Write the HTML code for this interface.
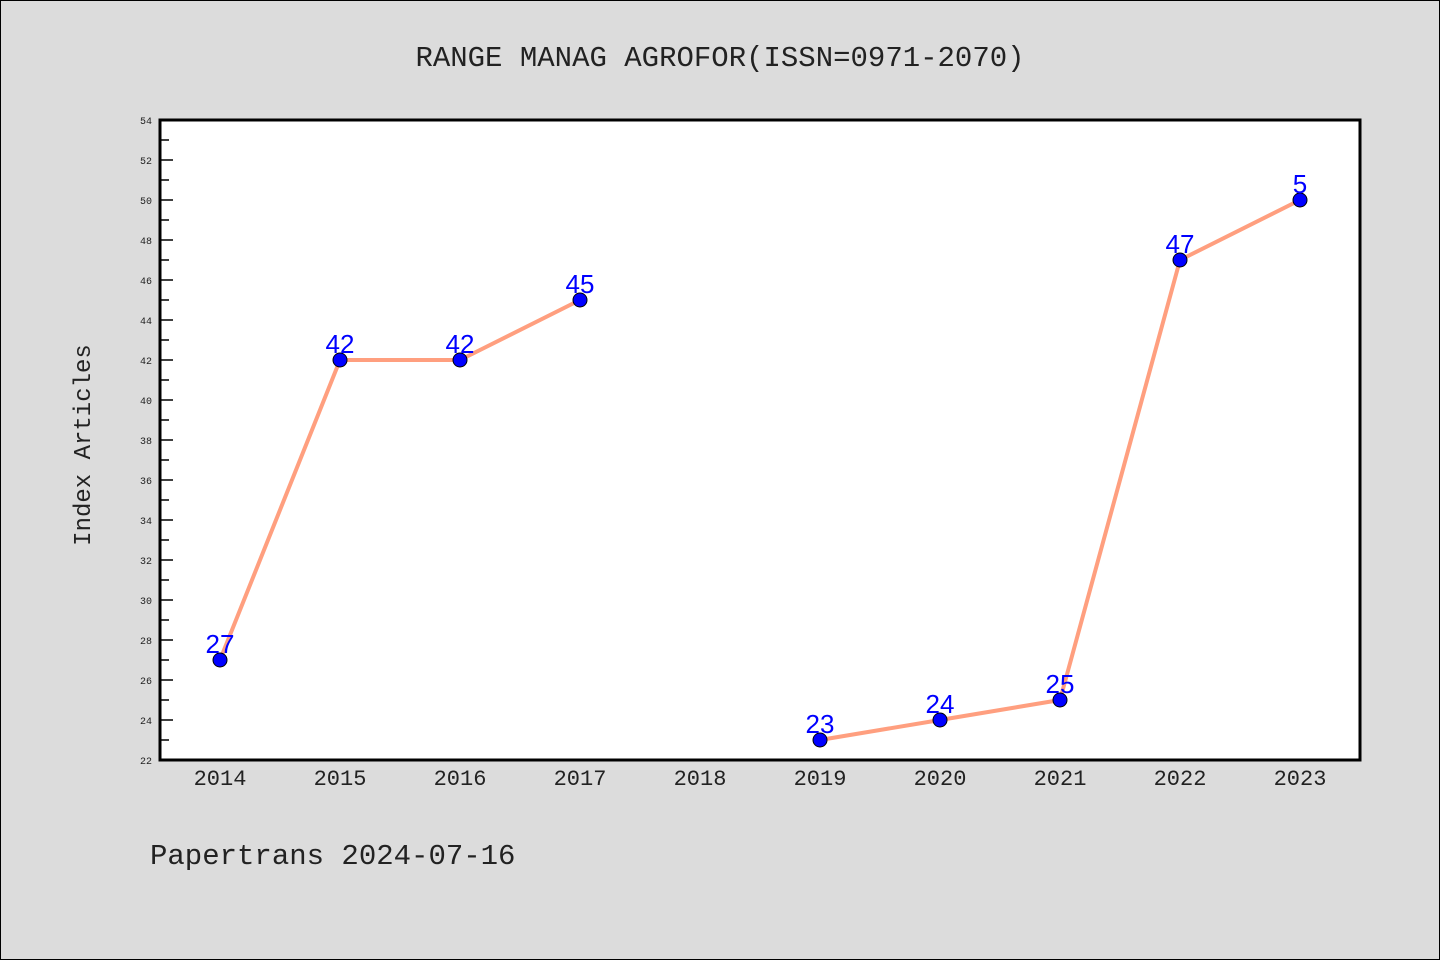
<!DOCTYPE html>
<html><head><meta charset="utf-8"><style>
body{margin:0;background:#dcdcdc;}
svg{display:block;font-family:"Liberation Mono","DejaVu Sans Mono",monospace;}
</style></head><body>
<svg width="1440" height="960">
<rect x="0.5" y="0.5" width="1439" height="959" fill="#dcdcdc" stroke="#000"/>
<text x="720" y="66" text-anchor="middle" font-size="29" fill="#222">RANGE MANAG AGROFOR(ISSN=0971-2070)</text>
<rect x="160" y="120" width="1200" height="640" fill="#fff"/>
<g id="ticks"></g>
<g id="series"></g>
<rect x="160" y="120" width="1200" height="640" fill="none" stroke="#000" stroke-width="3"/>
<text x="90" y="445" text-anchor="middle" font-size="24" fill="#222" transform="rotate(-90 90 445)">Index Articles</text>
<text x="150" y="864" font-size="29" fill="#222">Papertrans 2024-07-16</text>
</svg>
<script>
const years=[2014,2015,2016,2017,2018,2019,2020,2021,2022,2023];
const values=[27,42,42,45,null,23,24,25,47,50];
const labels=["27","42","42","45","","23","24","25","47","5"];
const yTicks=[22,24,26,28,30,32,34,36,38,40,42,44,46,48,50,52,54];
const NS="http://www.w3.org/2000/svg";
const x0=160,yTop=120,yBot=760,yMin=22,yMax=54;
const xs=i=>220+i*120;
const ys=v=>yBot-(v-yMin)/(yMax-yMin)*(yBot-yTop);
function mk(t,a,p){const e=document.createElementNS(NS,t);for(const k in a)e.setAttribute(k,a[k]);p.appendChild(e);return e;}
const tg=document.getElementById('ticks'),sg=document.getElementById('series');
yTicks.forEach(v=>{
 const y=ys(v);
 const l=mk('line',{x1:x0,x2:x0+13,y1:y,y2:y,stroke:'#000','stroke-width':1.5},tg);
 
 
 const t=mk('text',{x:x0-8,y:y+4,'text-anchor':'end','font-size':10,fill:'#222'},tg);
 t.textContent=v;
 
 
 if(v<yMax){const ym=ys(v+1);
 const m=mk('line',{x1:x0,x2:x0+9,y1:ym,y2:ym,stroke:'#000','stroke-width':1.5},tg);
 
 }
});
years.forEach((yr,i)=>{
 const t=mk('text',{x:xs(i),y:785,'text-anchor':'middle','font-size':22,fill:'#222'},tg);
 t.textContent=yr;
 
 
});
// line segments (break at nulls)
let seg=[];
const segs=[];
values.forEach((v,i)=>{if(v==null){if(seg.length)segs.push(seg);seg=[];}else seg.push([xs(i),ys(v)]);});
if(seg.length)segs.push(seg);
segs.forEach(s=>{
 const p=mk('polyline',{points:s.map(q=>q.join(',')).join(' '),fill:'none',stroke:'#ff9f7f','stroke-width':4,'stroke-linejoin':'round'},sg);
 
 
});
values.forEach((v,i)=>{
 if(v==null)return;
 const c=mk('circle',{cx:xs(i),cy:ys(v),r:7,fill:'#0000ff',stroke:'#000','stroke-width':1},sg);
 
 
 const t=mk('text',{x:xs(i),y:ys(v)-7,'text-anchor':'middle','font-size':26,fill:'#0000ff','font-family':'Liberation Sans, sans-serif'},sg);
 t.textContent=labels[i];
 
 
});
</script>
</body></html>
